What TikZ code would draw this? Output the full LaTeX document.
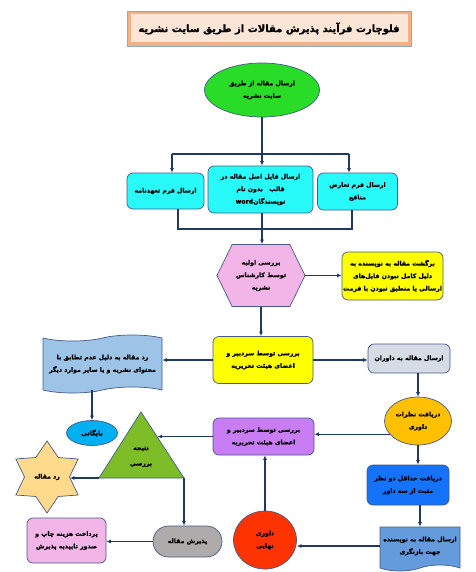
\documentclass[tikz,border=0pt]{standalone}
\usepackage{fontspec}
\newfontfamily\fafont[Script=Arabic, BoldFeatures={FakeBold=1.3}]{DejaVu Sans}
\TeXXeTstate=1
\usetikzlibrary{shapes.geometric,shapes.symbols,shapes.misc,arrows.meta}
\definecolor{edgec}{RGB}{70,90,135}
\definecolor{navyc}{RGB}{32,56,100}
\definecolor{titleedge}{RGB}{140,170,200}
\definecolor{titleband}{RGB}{244,177,131}
\definecolor{titlefill}{RGB}{251,229,214}
\definecolor{greenc}{RGB}{40,220,40}
\definecolor{cyanc}{RGB}{40,250,250}
\definecolor{pinkc}{RGB}{243,180,232}
\definecolor{yellowc}{RGB}{255,255,0}
\definecolor{wavyc}{RGB}{157,195,230}
\definecolor{grayc}{RGB}{214,220,229}
\definecolor{orangec}{RGB}{255,192,0}
\definecolor{purplec}{RGB}{200,125,245}
\definecolor{trianc}{RGB}{125,190,40}
\definecolor{blueell}{RGB}{0,176,240}
\definecolor{starc}{RGB}{255,217,140}
\definecolor{pillc}{RGB}{175,171,171}
\definecolor{redc}{RGB}{255,51,0}
\definecolor{bluebox}{RGB}{20,115,250}
\definecolor{docc}{RGB}{100,155,220}
\newcommand{\rl}[1]{\beginR #1\endR}
\newcommand{\fa}{\fafont\bfseries\fontsize{6.2}{12.5}\selectfont}
\begin{document}
\begin{tikzpicture}[x=1pt,y=-1pt,
  shp/.style={draw=edgec, line width=0.7pt, align=center, font=\fa, inner sep=1pt},
  rbox/.style={shp, rectangle, rounded corners=6pt},
  conn/.style={draw=navyc, line width=1.1pt},
  arr/.style={conn, -{Latex[length=4.5pt,width=4pt]}}]
\useasboundingbox[fill=white] (0,0) rectangle (475,572);

% title
\node[draw=titleedge, line width=0.8pt, fill=titleband, minimum width=284, minimum height=35, inner sep=0] (title) at (269,28.5) {};
\node[fill=titlefill, minimum width=277, minimum height=28, inner sep=0, font=\fafont\bfseries\fontsize{10}{12}\selectfont] (titletext) at (269,28.5) {\rl{فلوچارت فرآیند پذیرش مقالات از طریق سایت نشریه}};

% start
\node[shp, ellipse, fill=greenc, minimum width=115, minimum height=54] (start) at (262,90) {\rl{ارسال مقاله از طریق}\\\rl{سایت نشریه}};

% three boxes
\node[rbox, fill=cyanc, minimum width=77, minimum height=36] (b1) at (165.5,191) {\rl{ارسال فرم تعهدنامه}};
\node[rbox, fill=cyanc, minimum width=105, minimum height=47] (b2) at (260.5,189.5) {\rl{ارسال فایل اصل مقاله در}\\\rl{قالب\ \ \ بدون نام}\\\rl{نویسندگان\beginL word\endL}};
\node[rbox, fill=cyanc, minimum width=80, minimum height=37] (b3) at (357.5,191.5) {\rl{ارسال فرم تعارض}\\\rl{منافع}};

% hexagon
\node[shp, signal, signal to=west and east, signal pointer angle=128, fill=pinkc, minimum width=88, minimum height=62, inner sep=0] (hex) at (261,275.5) {\rl{بررسی اولیه}\\\rl{توسط کارشناس}\\\rl{نشریه}};

% yellow return box
\node[rbox, fill=yellowc, minimum width=101, minimum height=48] (y1) at (392.5,276) {\rl{برگشت مقاله به نویسنده به}\\\rl{دلیل کامل نبودن فایل‌های}\\\rl{ارسالی یا منطبق نبودن با فرمت}};

% yellow review box
\node[rbox, fill=yellowc, minimum width=100, minimum height=47] (y2) at (263,360) {\rl{بررسی توسط سردبیر و}\\\rl{اعضای هیئت تحریریه}};

% wavy reject box
\node[shp, tape, fill=wavyc, minimum width=119, minimum height=58, tape bend height=6pt] (wavy) at (102.5,364) {\rl{رد مقاله به دلیل عدم تطابق با}\\\rl{محتوای نشریه و یا سایر موارد دیگر}};

% gray box
\node[rbox, fill=grayc, minimum width=82, minimum height=29] (gray) at (409,358.5) {\rl{ارسال مقاله به داوران}};

% orange ellipse
\node[shp, ellipse, fill=orangec, minimum width=67, minimum height=48] (orange) at (418,421) {\rl{دریافت نظرات}\\\rl{داوری}};

% purple box
\node[rbox, fill=purplec, minimum width=101, minimum height=37] (purple) at (263.5,436.5) {\rl{بررسی توسط سردبیر و}\\\rl{اعضای هیئت تحریریه}};

% triangle
\coordinate (tA) at (141,412);
\coordinate (tL) at (99,478);
\coordinate (tR) at (184,478);
\coordinate (tS) at (157.5,436.5);
\fill[fill=trianc, draw=edgec, line width=0.7pt] (tA) -- (tR) -- (tL) -- cycle;
\node[font=\fa, align=center, inner sep=0] (tri) at (141,457) {\rl{نتیجه}\\[3pt]\rl{بررسی}};

% blue ellipse
\node[shp, ellipse, fill=blueell, minimum width=51, minimum height=25] (arch) at (92,433) {\rl{بایگانی}};

% star
\node[shp, star, star points=6, star point ratio=1.6, minimum size=72, fill=starc, inner sep=0] (star) at (47,477) {\rl{رد مقاله}};

% blue box
\node[rbox, fill=bluebox, minimum width=82, minimum height=40] (bb) at (408,485) {\rl{دریافت حداقل دو نظر}\\\rl{مثبت از سه داور}};

% document box
\node[shp, tape, tape bend top=none, fill=docc, minimum width=80, minimum height=44, tape bend height=6pt] (doc) at (420,546) {\rl{ارسال مقاله به نویسنده}\\\rl{جهت بازنگری}};

% red ellipse
\node[shp, ellipse, fill=redc, minimum width=63, minimum height=58] (red) at (265,540) {\rl{داوری}\\\rl{نهایی}};

% pill
\node[shp, rounded rectangle, fill=pillc, minimum width=71, minimum height=31] (pill) at (187.5,541.5) {\rl{پذیرش مقاله}};

% pink final box
\node[rbox, fill=pinkc, minimum width=79, minimum height=45] (pink) at (66.5,540.5) {\rl{پرداخت هزینه چاپ و}\\\rl{صدور تاییدیه پذیرش}};

% connectors
\coordinate (j0) at (262,154);
\coordinate (jl) at (172,154);
\coordinate (jr) at (349,154);
\draw[conn] (start.south) -- (j0);
\draw[conn] (jl) -- (jr);
\draw[arr] (jl) -- (jl |- b1.north);
\draw[arr] (j0) -- (j0 |- b2.north);
\draw[arr] (jr) -- (jr |- b3.north);
\coordinate (kl) at (178,229);
\coordinate (kr) at (352,229);
\coordinate (kc) at (262,229);
\draw[conn] (kl |- b1.south) -- (kl) -- (kr) -- (kr |- b3.south);
\draw[arr] (kc |- b2.south) -- (kc |- hex.north);
\draw[arr] (hex.east) -- (hex.east -| y1.west);
\draw[arr] (hex.south) -- (hex.south |- y2.north);
\draw[arr] (y2.west) -- (y2.west -| wavy.east);
\draw[arr] (y2.east) -- (y2.east -| gray.west);
\draw[arr] (orange.north |- gray.south) -- (orange.north);
\draw[arr] (arch.north |- wavy.south) -- (arch.north);
\draw[arr] (orange.205) -- (orange.205 -| purple.east);
\draw[arr] (purple.west) -- (tS);
\draw[arr] (tL) -- (tL -| star.east);
\draw[arr] (tR) -- (tR |- pill.north);
\draw[arr] (pill.west) -- (pill.west -| pink.east);
\draw[arr] (orange.south) -- (orange.south |- bb.north);
\draw[arr] (doc.north |- bb.south) -- (doc.north);
\draw[arr] (doc.west) -- (doc.west -| red.east);
\draw[arr] (red.north) -- (red.north |- purple.south);
\end{tikzpicture}
\end{document}
